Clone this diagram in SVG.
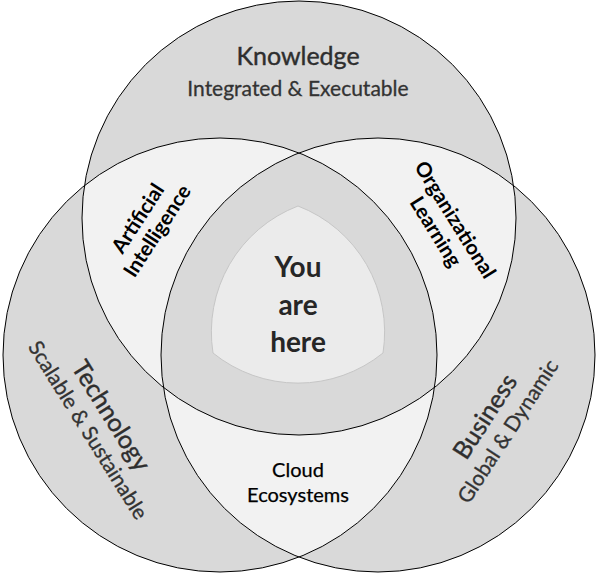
<svg xmlns="http://www.w3.org/2000/svg" width="597" height="574" viewBox="0 0 597 574">
<style>
.base{fill:#d9d9d9;stroke:none}
.pair{fill:#f2f2f2;stroke:none}
.triple{fill:#d9d9d9;stroke:none}
.ring{fill:none;stroke:#000;stroke-width:1}
.t{font-family:Lato,"Liberation Sans",sans-serif;text-anchor:middle}
.title{font-size:25px;fill:#2e2e2e;stroke:#2e2e2e;stroke-width:0.4}
.sub{font-size:21px;fill:#333;stroke:#333;stroke-width:0.3}
.lbl{font-size:20.5px;font-weight:bold;fill:#000}
.you{font-size:28px;font-weight:bold;fill:#262626}
.cloud{font-size:20px;fill:#000;stroke:#000;stroke-width:0.25}
</style>
<defs>
<clipPath id="cT"><circle cx="299" cy="218" r="217"/></clipPath>
<clipPath id="cL"><circle cx="220" cy="355" r="217"/></clipPath>
</defs>
<rect width="597" height="574" fill="#fff"/>
<g id="fills">
<circle class="base" cx="299" cy="218" r="217"/>
<circle class="base" cx="220" cy="355" r="217"/>
<circle class="base" cx="378" cy="355" r="217"/>
<g clip-path="url(#cT)">
<circle class="pair" cx="220" cy="355" r="217"/>
<circle class="pair" cx="378" cy="355" r="217"/>
</g>
<g clip-path="url(#cL)">
<circle class="pair" cx="378" cy="355" r="217"/>
</g>
<g clip-path="url(#cT)"><g clip-path="url(#cL)">
<circle class="triple" cx="378" cy="355" r="217"/>
</g></g>
</g>
<g id="center">
<path d="M298,206 A135,135 0 0 1 383,353 A135,135 0 0 1 213,353 A135,135 0 0 1 298,206 Z" fill="#ebebeb" stroke="#c6c6c6" stroke-width="1"/>
<text class="t you"><tspan x="298" y="277">You</tspan><tspan x="298" y="315">are</tspan><tspan x="298" y="352">here</tspan></text>
</g>
<g id="knowledge">
<circle class="ring" cx="299" cy="218" r="217"/>
<text class="t title" x="298" y="65">Knowledge</text>
<text class="t sub" x="298" y="96">Integrated &amp; Executable</text>
</g>
<g id="technology">
<circle class="ring" cx="220" cy="355" r="217"/>
<g transform="translate(98,424) rotate(58)">
<text class="t title" x="0" y="-7">Technology</text>
<text class="t sub" x="0" y="19">Scalable &amp; Sustainable</text>
</g>
</g>
<g id="business">
<circle class="ring" cx="378" cy="355" r="217"/>
<g transform="translate(498,425) rotate(-57)">
<text class="t title" x="0" y="-7">Business</text>
<text class="t sub" x="0" y="19">Global &amp; Dynamic</text>
</g>
</g>
<g id="artificial-intelligence">
<g transform="translate(148,225) rotate(-57)">
<text class="t lbl" x="0" y="-5">Artificial</text>
<text class="t lbl" x="0" y="18">Intelligence</text>
</g>
</g>
<g id="organizational-learning">
<g transform="translate(445,226) rotate(58)">
<text class="t lbl" x="0" y="-5">Organizational</text>
<text class="t lbl" x="0" y="18">Learning</text>
</g>
</g>
<g id="cloud-ecosystems">
<text class="t cloud" x="298" y="477">Cloud</text>
<text class="t cloud" x="298" y="502">Ecosystems</text>
</g>
</svg>
